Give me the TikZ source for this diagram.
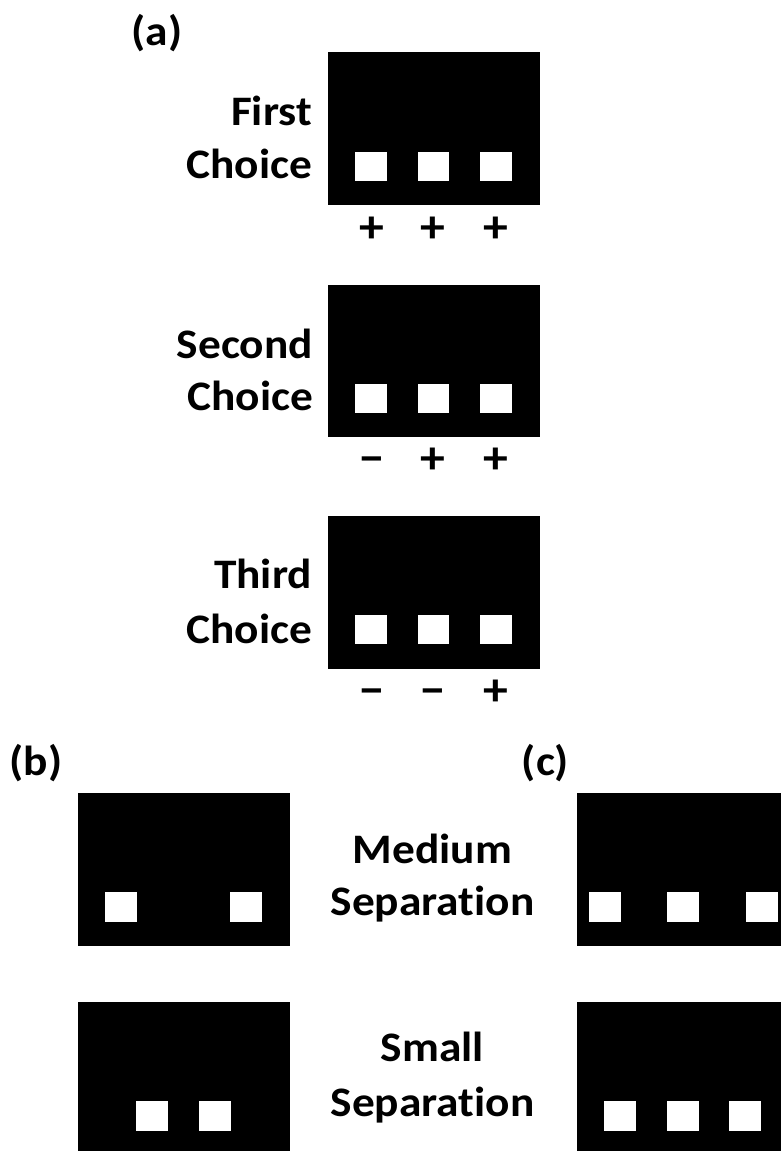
\documentclass[tikz,border=0pt]{standalone}
\usepackage{fontspec}
\setmainfont{Carlito}[FakeStretch=1.08, Ligatures=NoCommon]
\begin{document}
\begin{tikzpicture}[x=1pt,y=-1pt,
  panel/.style={fill=black, draw=none, inner sep=0pt, outer sep=0pt, minimum width=212pt, minimum height=152.5pt},
  sq/.style={fill=white, draw=none, inner sep=0pt, outer sep=0pt, minimum width=31.8pt, minimum height=29.5pt},
  lbl/.style={font=\bfseries\fontsize{42}{50}\selectfont, inner sep=0pt, outer sep=0pt},
  sign/.style={font=\bfseries\fontsize{46}{50}\selectfont, inner sep=0pt, outer sep=0pt, anchor=base}]
\useasboundingbox (0,0) rectangle (781,1151);
\clip (0,0) rectangle (781,1151);

% ---- panel (a)
\node[lbl, anchor=base] (la) at (157,45) {(a)};

\node[panel] (a1) at (433.9,128.5) {};
\node[sq] (a1s1) at (370.8,166.4) {};
\node[sq] (a1s2) at (433.5,166.4) {};
\node[sq] (a1s3) at (495.7,166.4) {};
\node[lbl, anchor=base east] (t1a) at (312,125) {First};
\node[lbl, anchor=base east] (t1b) at (312,178) {Choice};
\node[sign] (p11) at (371.7,242.5) {+};
\node[sign] (p12) at (433.3,242.5) {+};
\node[sign] (p13) at (495.7,242.5) {+};

\node[panel] (a2) at (433.9,360.9) {};
\node[sq] (a2s1) at (370.8,398.7) {};
\node[sq] (a2s2) at (433.5,398.7) {};
\node[sq] (a2s3) at (495.7,398.7) {};
\node[lbl, anchor=base east] (t2a) at (313,358) {Second};
\node[lbl, anchor=base east] (t2b) at (313,410) {Choice};
\node[sign] (p21) at (371.7,473.5) {\char"2212};
\node[sign] (p22) at (433.3,473.5) {+};
\node[sign] (p23) at (495.7,473.5) {+};

\node[panel] (a3) at (433.9,592.5) {};
\node[sq] (a3s1) at (370.8,629.7) {};
\node[sq] (a3s2) at (433.5,629.7) {};
\node[sq] (a3s3) at (495.7,629.7) {};
\node[lbl, anchor=base east] (t3a) at (312,588) {Third};
\node[lbl, anchor=base east] (t3b) at (312,643) {Choice};
\node[sign] (p31) at (371.7,705.5) {\char"2212};
\node[sign] (p32) at (433.3,705.5) {\char"2212};
\node[sign] (p33) at (495.7,705.5) {+};

% ---- panel (b)
\node[lbl, anchor=base] (lb) at (36,775) {(b)};
\node[panel] (b1) at (184,869.4) {};
\node[sq] (b1s1) at (120.8,907) {};
\node[sq] (b1s2) at (246,907) {};
\node[panel] (b2) at (184.2,1078.6) {};
\node[sq] (b2s1) at (152,1116) {};
\node[sq] (b2s2) at (214.7,1116) {};

% ---- middle labels
\node[lbl, anchor=base] (m1) at (432.5,863.3) {Medium};
\node[lbl, anchor=base] (m2) at (432.5,915) {Separation};
\node[lbl, anchor=base] (s1) at (432.5,1061.7) {Small};
\node[lbl, anchor=base] (s2) at (432.5,1116.7) {Separation};

% ---- panel (c)
\node[lbl, anchor=base] (lc) at (545.5,775) {(c)};
\node[panel] (c1) at (682.7,869.4) {};
\node[sq] (c1s1) at (604.7,907) {};
\node[sq] (c1s2) at (683,907) {};
\node[sq] (c1s3) at (761.7,907) {};
\node[panel] (c2) at (682.6,1078.6) {};
\node[sq] (c2s1) at (620.3,1116) {};
\node[sq] (c2s2) at (683,1116) {};
\node[sq] (c2s3) at (745,1116) {};
\end{tikzpicture}
\end{document}
